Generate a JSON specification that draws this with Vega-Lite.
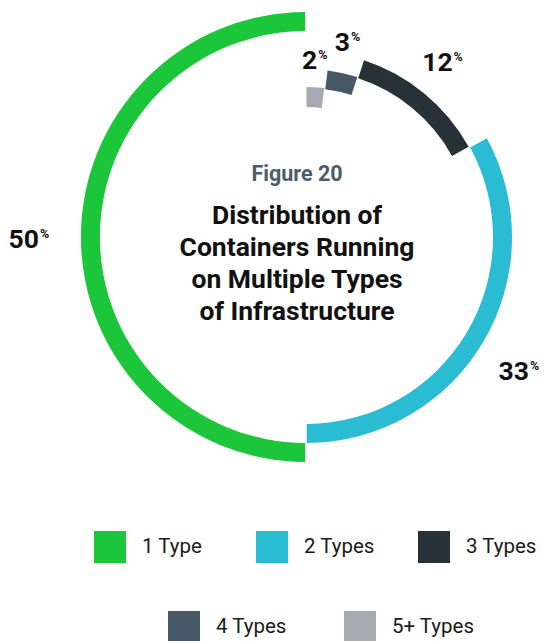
{
  "$schema": "https://vega.github.io/schema/vega-lite/v6.json",
  "width": 555,
  "height": 641,
  "autosize": {"type": "none"},
  "padding": 0,
  "background": "white",
  "config": {"view": {"stroke": null}, "font": "Roboto"},
  "data": {
    "values": [
      {"type": "1 Type", "value": 50, "order": 5},
      {"type": "2 Types", "value": 33, "order": 4},
      {"type": "3 Types", "value": 12, "order": 3},
      {"type": "4 Types", "value": 3, "order": 2},
      {"type": "5+ Types", "value": 2, "order": 1}
    ]
  },
  "layer": [
    {
      "transform": [{"stack": "value", "groupby": [], "sort": [{"field": "order", "order": "ascending"}], "as": ["v0", "v1"]}],
      "encoding": {
        "theta": {"field": "v0", "type": "quantitative", "stack": null, "scale": {"domain": [0, 100]}},
        "theta2": {"field": "v1"},
        "color": {
          "field": "type", "type": "nominal",
          "scale": {"domain": ["1 Type", "2 Types", "3 Types"], "range": ["#1cc63a", "#29bcd3", "#263138"]},
          "legend": {"title": null, "orient": "none", "legendX": 94, "legendY": 531, "direction": "horizontal", "symbolType": "square", "symbolSize": 1024, "symbolStrokeWidth": 0, "labelFontSize": 20.5, "labelFont": "Roboto", "labelColor": "#1a1a1a", "labelOffset": 16, "columnPadding": 43, "gridAlign": "all", "padding": 0, "labelLimit": 300}
        }
      },
      "layer": [
        {"transform": [{"filter": "datum.type === '1 Type'"}], "mark": {"type": "arc", "x": 306, "y": 237, "radius": 225, "radius2": 206, "padAngle": 0.005}},
        {"transform": [{"filter": "datum.type === '2 Types'"}], "mark": {"type": "arc", "x": 306, "y": 237, "radius": 206, "radius2": 187, "padAngle": 0.005}},
        {"transform": [{"filter": "datum.type === '3 Types'"}], "mark": {"type": "arc", "x": 306, "y": 237, "radius": 186, "radius2": 167, "padAngle": 0.005}}
      ]
    },
    {
      "transform": [{"stack": "value", "groupby": [], "sort": [{"field": "order", "order": "ascending"}], "as": ["v0", "v1"]}],
      "encoding": {
        "theta": {"field": "v0", "type": "quantitative", "stack": null, "scale": {"domain": [0, 100]}},
        "theta2": {"field": "v1"},
        "fill": {
          "field": "type", "type": "nominal",
          "scale": {"domain": ["4 Types", "5+ Types"], "range": ["#475966", "#a5abb1"]},
          "legend": {"title": null, "orient": "none", "legendX": 168, "legendY": 611, "direction": "horizontal", "symbolType": "square", "symbolSize": 1024, "symbolStrokeWidth": 0, "labelFontSize": 20.5, "labelFont": "Roboto", "labelColor": "#1a1a1a", "labelOffset": 16, "columnPadding": 45, "gridAlign": "all", "padding": 0, "labelLimit": 300}
        }
      },
      "layer": [
        {"transform": [{"filter": "datum.type === '4 Types'"}], "mark": {"type": "arc", "x": 306, "y": 237, "radius": 168, "radius2": 149, "padAngle": 0.005}},
        {"transform": [{"filter": "datum.type === '5+ Types'"}], "mark": {"type": "arc", "x": 306, "y": 237, "radius": 150, "radius2": 130, "padAngle": 0.005}}
      ]
    },
    {
      "mark": {"type": "text", "x": 306, "y": 237, "align": "right", "baseline": "middle", "dy": 3, "font": "Roboto", "fontSize": 26.5, "fontWeight": "bold", "color": "#111111"},
      "encoding": {
        "theta": {"field": "value", "type": "quantitative", "stack": true, "scale": {"domain": [0, 100]}},
        "order": {"field": "order", "type": "quantitative"},
        "radius": {"field": "value", "type": "quantitative", "scale": {"type": "linear", "zero": false, "domain": [2, 3, 12, 33, 50], "range": [179, 202, 230, 259, 267]}},
        "text": {"field": "value", "type": "quantitative"}
      }
    },
    {
      "mark": {"type": "text", "x": 306, "y": 237, "align": "left", "baseline": "middle", "dx": 1, "dy": -3, "font": "Roboto", "fontSize": 12.5, "fontWeight": "bold", "color": "#111111"},
      "encoding": {
        "theta": {"field": "value", "type": "quantitative", "stack": true, "scale": {"domain": [0, 100]}},
        "order": {"field": "order", "type": "quantitative"},
        "radius": {"field": "value", "type": "quantitative", "scale": {"type": "linear", "zero": false, "domain": [2, 3, 12, 33, 50], "range": [179, 202, 230, 259, 267]}},
        "text": {"value": "%"}
      }
    },
    {
      "data": {"values": [{"label": "Figure 20"}]},
      "mark": {"type": "text", "x": 297, "y": 181, "align": "center", "baseline": "alphabetic", "font": "Roboto", "fontSize": 21.5, "fontWeight": "bold", "color": "#4b5d6a"},
      "encoding": {"text": {"field": "label", "type": "nominal"}}
    },
    {
      "data": {"values": [{"label": "Distribution of\nContainers Running\non Multiple Types\nof Infrastructure"}]},
      "mark": {"type": "text", "x": 297, "y": 224, "align": "center", "baseline": "alphabetic", "lineBreak": "\n", "lineHeight": 32, "font": "Roboto", "fontSize": 26.5, "fontWeight": "bold", "color": "#111111"},
      "encoding": {"text": {"field": "label", "type": "nominal"}}
    }
  ]
}
